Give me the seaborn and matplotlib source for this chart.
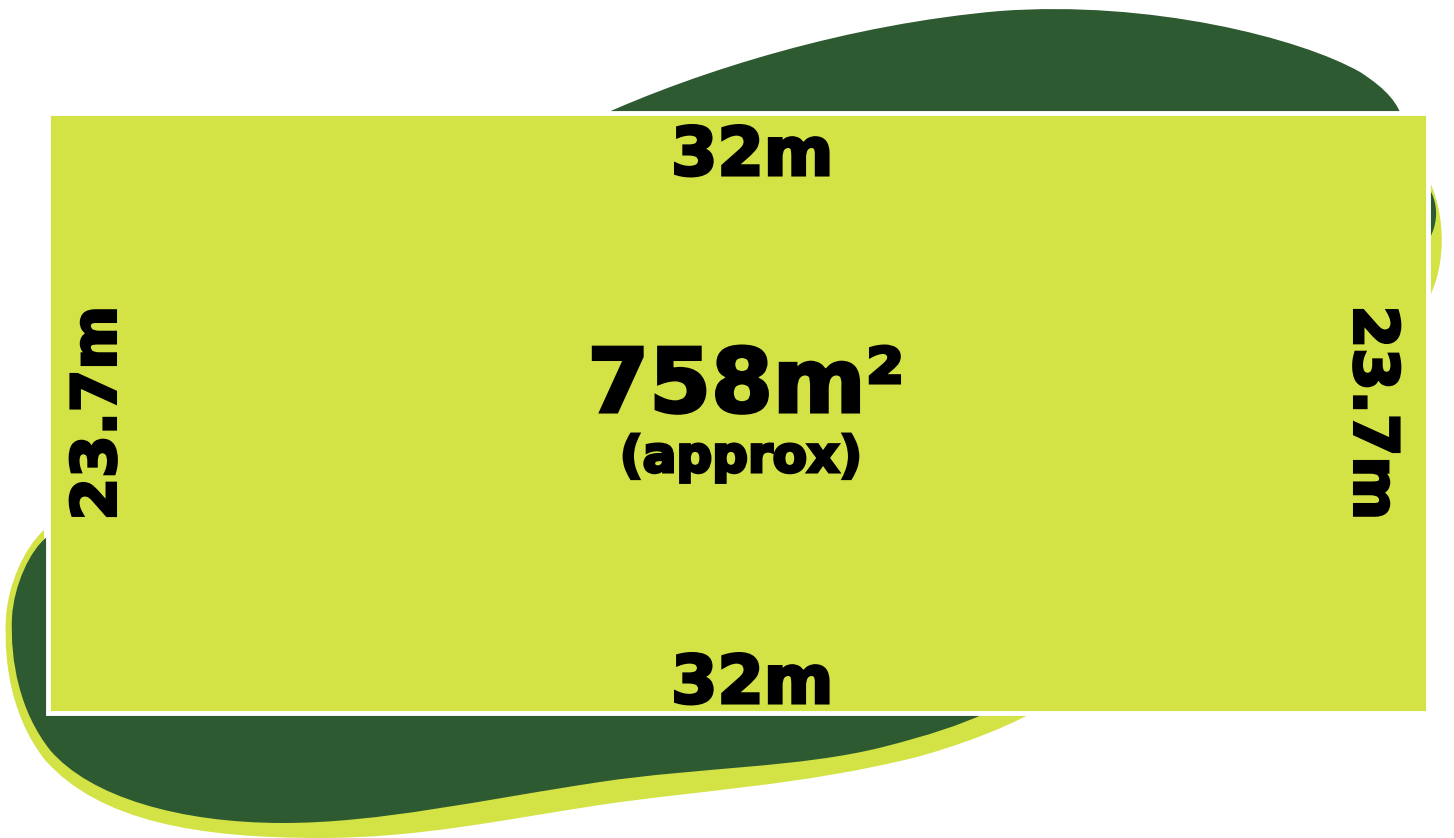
#%% MODULE BEGINS
module_name = "lot_plan"

'''
Description:
    Lot plan drawing: 32m x 23.7m block, 758m2 (approx),
    with decorative green swooshes behind.
'''

#%% IMPORTS                    ~~~~~~~~~~~~~~~~~~~~~~~~~~~~~~~~~~~~~~~~~~~~
import matplotlib
matplotlib.use("Agg")
import numpy  as np
import pandas as pd
import seaborn as sns
from   matplotlib import pyplot as plt
from   matplotlib import patheffects as pe
from   matplotlib.path import Path
from   matplotlib.patches import PathPatch, Rectangle

#%% DATA                        ~~~~~~~~~~~~~~~~~~~~~~~~~~~~~~~~~~~~~~~~~~~~
side_names   = ["top", "bottom", "left", "right"]
side_lengths = [32, 32, 23.7, 23.7]      # metres
lot_width    = 32
lot_depth    = 23.7
lot_area     = 758
area_note    = "(approx)"

#%% CONFIGURATION               ~~~~~~~~~~~~~~~~~~~~~~~~~~~~~~~~~~~~~~~~~~~~
LIME  = "#D3E244"
DARK  = "#2E5A31"
FONT  = ["DejaVu Sans"]
# fill + thin outline from the same glyph path -> heavier, Arial Black-ish
HEAVY = [pe.PathPatchEffect(edgecolor="black", facecolor="black",
                            linewidth=2.2)]

W, H = 1454, 838
# where the lot sits on the canvas (pixels)
px_left, px_right, px_top, px_bot = 48, 1428, 113, 713

def to_m(px, py):
    # pixel position -> lot metres
    x = (px - px_left) / (px_right - px_left) * lot_width
    y = (px_bot - py) / (px_bot - px_top) * lot_depth
    return x, y
#end

def blob(ax, pts, codes, color, z):
    verts = [to_m(*p) for p in pts]
    ax.add_patch(PathPatch(Path(verts, codes), facecolor=color,
                           edgecolor="none", zorder=z))
#end

M, C, L, Z = Path.MOVETO, Path.CURVE4, Path.LINETO, Path.CLOSEPOLY

#%% MAIN CODE                  ~~~~~~~~~~~~~~~~~~~~~~~~~~~~~~~~~~~~~~~~~~~~
sns.set_theme(style="white")
plt.rcParams["font.family"] = FONT

fig = plt.figure(figsize=(W / 100, H / 100), dpi=100)
ax = fig.add_axes([0, 0, 1, 1])
x0, y1 = to_m(0, 0)
x1, y0 = to_m(W, H)
ax.set_xlim(x0, x1)
ax.set_ylim(y0, y1)
ax.axis("off")

# top swoosh
blob(ax, [(595, 118), (700, 70), (850, 24), (1000, 11),
          (1150, 0), (1300, 38), (1360, 72),
          (1388, 90), (1398, 104), (1402, 118),
          (600, 200), (595, 118)],
     [M, C, C, C, C, C, C, C, C, C, L, Z], DARK, 2)
# little rim poking out on the right of the lot
blob(ax, [(1420, 165), (1446, 200), (1450, 265), (1425, 305), (1420, 165)],
     [M, C, C, C, Z], LIME, 2)
blob(ax, [(1420, 178), (1440, 195), (1441, 225), (1425, 245), (1420, 178)],
     [M, C, C, C, Z], DARK, 2)

# bottom swoosh: lime rim then dark body
blob(ax, [(44, 530), (24, 548), (8, 585), (6, 617),
          (3, 670), (15, 722), (45, 760),
          (100, 822), (200, 838), (320, 838),
          (420, 838), (500, 820), (600, 805),
          (700, 790), (800, 786), (917, 757),
          (960, 745), (1000, 730), (1032, 713),
          (48, 713), (44, 530)],
     [M] + [C] * 18 + [L, Z], LIME, 1)
blob(ax, [(47, 537), (30, 550), (14, 585), (12, 617),
          (10, 662), (20, 712), (50, 750),
          (90, 797), (180, 823), (283, 823),
          (380, 823), (480, 800), (600, 782),
          (700, 767), (800, 768), (883, 747),
          (930, 735), (960, 725), (986, 713),
          (48, 713), (47, 537)],
     [M] + [C] * 18 + [L, Z], DARK, 2)

# the lot itself
ax.add_patch(Rectangle((0, 0), lot_width, lot_depth, facecolor=LIME,
                       edgecolor="white", linewidth=3.5, zorder=3))

labels = pd.DataFrame({"side": side_names, "length": side_lengths})
spots = {"top":    (752, 175, 0, "baseline"),
         "bottom": (752, 703, 0, "baseline"),
         "left":   (99, 413, 90, "center"),
         "right":  (1371, 413, 270, "center")}
for _, row in labels.iterrows():
    px, py, rot, va = spots[row["side"]]
    x, y = to_m(px, py)
    txt = f"{row['length']:g}m"
    size = 48 if rot == 0 else 44
    ax.text(x, y, txt, ha="center", va=va, rotation=rot,
            fontsize=size, fontweight="bold", color="black", zorder=4,
            path_effects=HEAVY)
#end

x, y = to_m(746, 412)
ax.text(x, y, f"{lot_area}m²", ha="center", va="baseline",
        fontsize=64, fontweight="bold", color="black", zorder=4,
        path_effects=HEAVY)
x, y = to_m(741, 472)
ax.text(x, y, area_note, ha="center", va="baseline",
        fontsize=36, fontweight="bold", color="black", zorder=4,
        path_effects=HEAVY)

fig.savefig("out.png", dpi=100, facecolor="white")
